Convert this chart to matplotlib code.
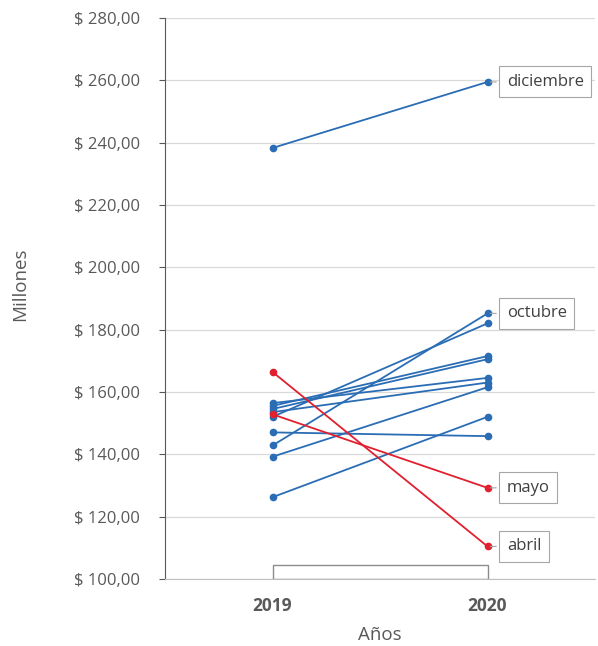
import matplotlib.pyplot as plt
from matplotlib.patches import Rectangle

plt.rcParams['font.family'] = ['Open Sans', 'DejaVu Sans']

years = ["2019", "2020"]
months = ["enero", "febrero", "marzo", "abril", "mayo", "junio", "julio",
          "agosto", "septiembre", "octubre", "noviembre", "diciembre"]
ventas_2019 = [155.5, 154.5, 156.4, 166.4, 152.8, 152.0, 147.0,
               139.2, 126.2, 142.8, 153.5, 238.3]
ventas_2020 = [171.5, 170.5, 164.5, 110.4, 129.2, 182.0, 145.8,
               161.5, 152.0, 185.2, 163.0, 259.5]
highlight_red = ["abril", "mayo"]
labeled = ["diciembre", "octubre", "mayo", "abril"]

blue = "#2a6db5"
red = "#e0202f"
grey = "#595959"

fig = plt.figure(figsize=(5.98, 6.46), dpi=100)
ax = fig.add_axes([0.276, 0.104, 0.719, 0.868])

x = [0, 1]
# blue lines first, red on top
for m, a, b in zip(months, ventas_2019, ventas_2020):
    if m in highlight_red:
        continue
    ax.plot(x, [a, b], color=blue, lw=1.3, marker="o", ms=4.5, zorder=3)
for m, a, b in zip(months, ventas_2019, ventas_2020):
    if m not in highlight_red:
        continue
    ax.plot(x, [a, b], color=red, lw=1.3, marker="o", ms=4.5, zorder=4)

for m, b in zip(months, ventas_2020):
    if m in labeled:
        ax.annotate(m, (1, b), xytext=(14, 0), textcoords="offset points",
                    va="center", ha="left", fontsize=12, color="#404040",
                    bbox=dict(boxstyle="square,pad=0.45", fc="white", ec="#a6a6a6", lw=0.8),
                    arrowprops=dict(arrowstyle="-", color="#a6a6a6", lw=0.8),
                    zorder=5, annotation_clip=False)

# small empty box between the years at the bottom
ax.add_patch(Rectangle((0, 100), 1, 4.5, fill=False, ec="#8c8c8c", lw=1.0, zorder=2))

ax.set_xlim(-0.5, 1.5)
ax.set_ylim(100, 280)
ax.set_xticks(x)
ax.set_xticklabels(years, fontsize=12.5, fontweight="bold", color=grey)
yt = list(range(100, 281, 20))
ax.set_yticks(yt)
ax.set_yticklabels(["$ %d,00" % v for v in yt], fontsize=12, color=grey)
ax.tick_params(axis="x", length=0, pad=13)
ax.tick_params(axis="y", length=4, direction="out", color=grey, pad=14)
ax.grid(axis="y", color="#d9d9d9", lw=0.9)
ax.set_axisbelow(True)
for s in ["top", "right"]:
    ax.spines[s].set_visible(False)
ax.spines["left"].set_color(grey)
ax.spines["bottom"].set_color("#bfbfbf")

ax.set_xlabel("Años", fontsize=13.5, color=grey, labelpad=8)
ax.set_ylabel("Millones", fontsize=13.5, color=grey)
ax.yaxis.set_label_coords(-0.315, 0.525)

fig.savefig("out.png", dpi=100)
